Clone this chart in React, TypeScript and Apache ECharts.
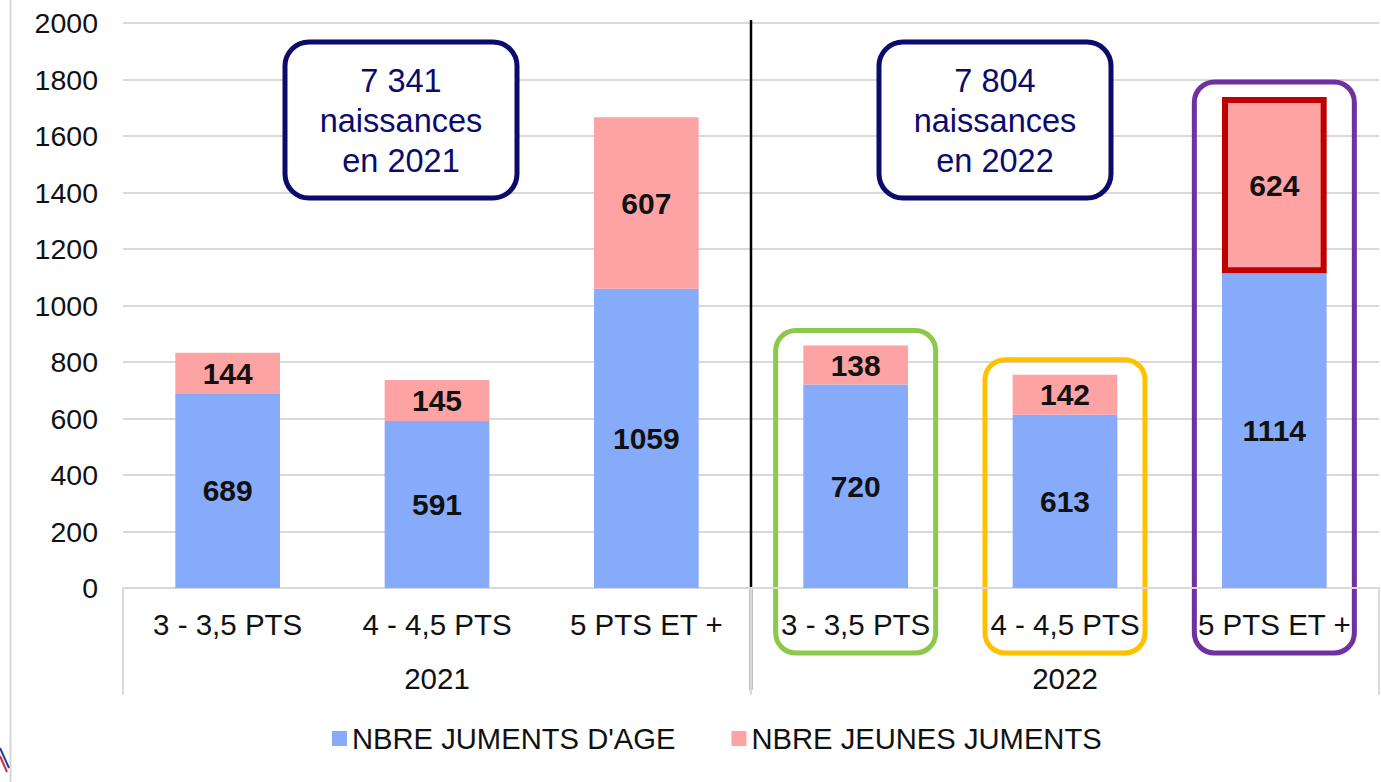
import React, { useEffect, useRef } from "react";
import * as echarts from "echarts";

const pointCategories = ["3 - 3,5 PTS", "4 - 4,5 PTS", "5 PTS ET +"];
const years = ["2021", "2022"];
const jumentsAge = [689, 591, 1059, 720, 613, 1114];
const jeunesJuments = [144, 145, 607, 138, 142, 624];
const naissances = ["7 341", "7 804"];
const seriesNames = ["NBRE JUMENTS D'AGE", "NBRE JEUNES JUMENTS"];
const yMin = 0;
const yMax = 2000;
const yInterval = 200;

const FONT = "'Liberation Sans', Arial, sans-serif";
const BLUE = "#86abfa";
const PINK = "#fea3a3";
const GRID = "#d9d9d9";
const NAVY = "#0b0b6b";

const categoryKeys = years.flatMap((y) => pointCategories.map((c) => y + "|" + c));

export default function App() {
  const ref = useRef<HTMLDivElement>(null);

  useEffect(() => {
    if (!ref.current) return;
    const chart = echarts.init(ref.current, null, { renderer: "svg" });
    const labelStyle = {
      show: true,
      position: "inside",
      fontFamily: FONT,
      fontSize: 30,
      fontWeight: "bold",
      color: "#111",
    };
    chart.setOption({
      animation: false,
      backgroundColor: "#ffffff",
      textStyle: { fontFamily: FONT },
      grid: { left: 123, right: 2, top: 23, bottom: 194, containLabel: false },
      legend: {
        left: 327,
        top: 719,
        itemWidth: 15,
        itemHeight: 15,
        itemGap: 56,
        icon: "rect",
        textStyle: { fontFamily: FONT, fontSize: 29.2, color: "#111" },
        data: seriesNames,
      },
      xAxis: [
        {
          type: "category",
          data: categoryKeys,
          position: "bottom",
          axisLine: { show: true, lineStyle: { color: GRID, width: 2 } },
          axisTick: { show: false },
          axisLabel: {
            margin: 21,
            fontFamily: FONT,
            fontSize: 29.5,
            color: "#111",
            interval: 0,
            formatter: (v: string) => v.split("|")[1],
          },
        },
        {
          type: "category",
          data: years,
          position: "bottom",
          axisLine: { show: false },
          axisTick: { show: true, length: 107, lineStyle: { color: GRID, width: 2 } },
          axisLabel: { margin: 75, fontFamily: FONT, fontSize: 29.5, color: "#111" },
        },
      ],
      yAxis: {
        type: "value",
        min: yMin,
        max: yMax,
        interval: yInterval,
        axisLine: { show: false },
        axisTick: { show: false },
        splitLine: { lineStyle: { color: GRID, width: 2 } },
        axisLabel: {
          margin: 25,
          fontFamily: FONT,
          fontSize: 28.5,
          color: "#111",
          formatter: (v: number) => String(v),
        },
      },
      series: [
        {
          name: seriesNames[0],
          type: "bar",
          stack: "total",
          barWidth: "50%",
          itemStyle: { color: BLUE },
          label: labelStyle,
          data: jumentsAge,
        },
        {
          name: seriesNames[1],
          type: "bar",
          stack: "total",
          barWidth: "50%",
          itemStyle: { color: PINK },
          label: labelStyle,
          data: jeunesJuments.map((v, i) =>
            i === 5 ? { value: v, itemStyle: { borderColor: "#c00000", borderWidth: 6 } } : v
          ),
        },
      ],
    });

    const cx = (i: number) => chart.convertToPixel({ xAxisIndex: 0 }, categoryKeys[i]) as number;
    const py = (v: number) => chart.convertToPixel({ yAxisIndex: 0 }, v) as number;
    const midX = (cx(2) + cx(3)) / 2;
    const highlights = [
      { i: 3, color: "#8cc84b" },
      { i: 4, color: "#ffc000" },
      { i: 5, color: "#7030a0" },
    ];
    const graphics: any[] = [
      {
        type: "line",
        shape: { x1: 10.5, y1: 0, x2: 10.5, y2: 782 },
        style: { stroke: "#d6d6d6", lineWidth: 2 },
      },
      {
        type: "line",
        shape: { x1: 0, y1: 748, x2: 9, y2: 768 },
        style: { stroke: "#2b3f9a", lineWidth: 2 },
      },
      {
        type: "line",
        shape: { x1: 0, y1: 756, x2: 7, y2: 772 },
        style: { stroke: "#d0303a", lineWidth: 2 },
      },
      {
        type: "line",
        shape: { x1: midX, y1: 20, x2: midX, y2: 690 },
        style: { stroke: "#000", lineWidth: 2.5 },
      },
    ];
    highlights.forEach((h) => {
      const total = jumentsAge[h.i] + jeunesJuments[h.i];
      const top = py(total) - 15;
      graphics.push({
        type: "rect",
        shape: { x: cx(h.i) - 80, y: top, width: 160, height: 653 - top, r: 20 },
        style: { fill: "none", stroke: h.color, lineWidth: 5 },
      });
    });
    const boxCenters = [401, 995];
    boxCenters.forEach((x, k) => {
      graphics.push({
        type: "rect",
        shape: { x: x - 116, y: 42, width: 232, height: 156, r: 24 },
        style: { fill: "#fff", stroke: NAVY, lineWidth: 5 },
      });
      graphics.push({
        type: "text",
        x,
        y: 121,
        style: {
          text: naissances[k] + "\nnaissances\nen " + years[k],
          fontFamily: FONT,
          fontSize: 32.5,
          lineHeight: 40,
          fill: NAVY,
          align: "center",
          verticalAlign: "middle",
        },
      });
    });
    chart.setOption({ graphic: graphics });

    return () => chart.dispose();
  }, []);

  return (
    <div
      ref={ref}
      style={{ position: "fixed", left: 0, top: 0, width: 1381, height: 782, background: "#fff" }}
    />
  );
}
